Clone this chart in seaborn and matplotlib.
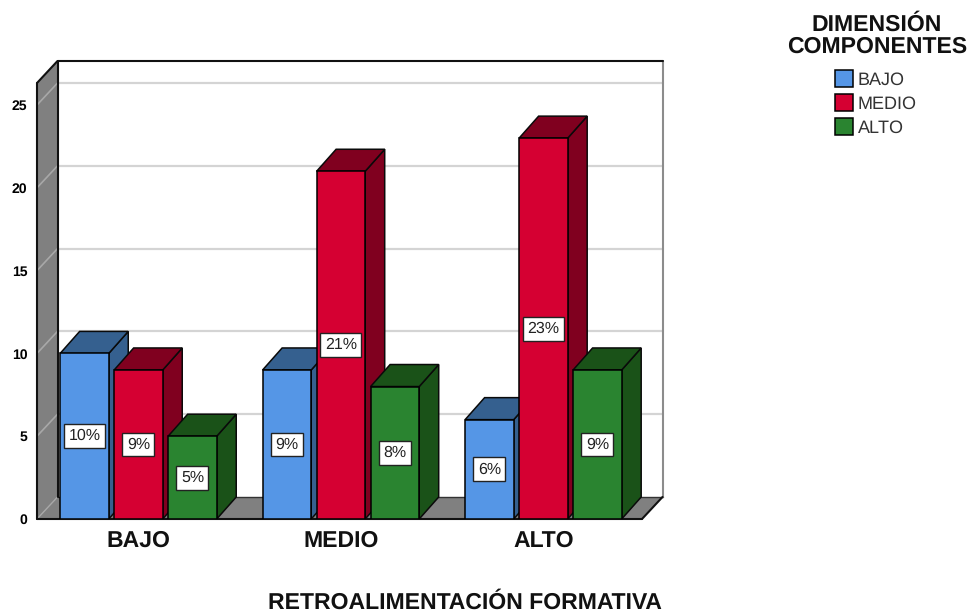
import matplotlib
matplotlib.use("Agg")
import matplotlib.pyplot as plt
from matplotlib.patches import Polygon
import pandas as pd
import seaborn as sns

groups = ["BAJO", "MEDIO", "ALTO"]
series = ["BAJO", "MEDIO", "ALTO"]
bajo_values = [10, 9, 6]
medio_values = [9, 21, 23]
alto_values = [5, 8, 9]
y_ticks = [0, 5, 10, 15, 20, 25]

front_colors = ["#5596E6", "#D50032", "#2A8430"]
shade_colors = ["#35608F", "#80001F", "#1A5218"]
wall_color = "#808080"
grid_color = "#D4D4D4"

sns.set_theme(style="white")
plt.rcParams["font.family"] = ["Liberation Sans", "DejaVu Sans"]
plt.rcParams["text.hinting"] = "no_hinting"
plt.rcParams["text.hinting_factor"] = 1

df = pd.DataFrame({
    "grupo": groups * 3,
    "serie": [s for s in series for _ in groups],
    "valor": bajo_values + medio_values + alto_values,
})

fig = plt.figure(figsize=(9.71, 6.14), dpi=100)
W, H = 971, 614
ax = fig.add_axes([37 / W, 1 - 519 / H, 605 / W, 436 / H])

sns.barplot(
    data=df, x="grupo", y="valor", hue="serie", order=groups, hue_order=series,
    palette=front_colors, width=0.8, gap=0.1, dodge=True, saturation=1,
    edgecolor="black", linewidth=1.1, ax=ax, legend=False,
)

ax.set_xlim(-0.501, 2.487)
ax.set_ylim(0, 26.33)
x0, x1 = ax.get_xlim()
top = ax.get_ylim()[1]
depth_x = 19.5 / (605 / (x1 - x0))
depth_y = 22 / (436 / top)
wall_x = 20.5 / (605 / (x1 - x0))

# Walls and floor of the 3D box
ax.add_patch(Polygon([(x0 + wall_x, depth_y), (x1 + wall_x, depth_y),
                      (x1 + wall_x, top + depth_y), (x0 + wall_x, top + depth_y)],
                     closed=True, fc="white", ec="none", zorder=0.5, clip_on=False))
ax.add_patch(Polygon([(x0, 0), (x0 + wall_x, depth_y),
                      (x0 + wall_x, top + depth_y), (x0, top)],
                     closed=True, fc=wall_color, ec="none", zorder=0.6, clip_on=False))
ax.add_patch(Polygon([(x0, 0), (x1, 0), (x1 + wall_x, depth_y), (x0 + wall_x, depth_y)],
                     closed=True, fc=wall_color, ec="none", zorder=0.6, clip_on=False))

# Gridlines run along the back wall and slant across the side wall
for v in y_ticks[1:]:
    ax.plot([x0 + wall_x, x1 + wall_x], [v + depth_y, v + depth_y],
            color=grid_color, lw=1.6, zorder=0.8, clip_on=False)
    ax.plot([x0, x0 + wall_x], [v, v + depth_y],
            color="#A8A8A8", lw=1.2, zorder=0.8, clip_on=False)

# Box outline
edge = dict(color="#111111", lw=1.5, zorder=0.9, clip_on=False, solid_capstyle="round")
ax.plot([x0, x0], [0, top], **edge)
ax.plot([x0, x0 + wall_x], [top, top + depth_y], **edge)
ax.plot([x0 + wall_x, x1 + wall_x], [top + depth_y, top + depth_y], **edge)
ax.plot([x0 + wall_x, x0 + wall_x], [depth_y, top + depth_y], **edge)
ax.plot([x0, x1], [0, 0], **edge)
ax.plot([x1, x1 + wall_x], [0, depth_y], **edge)
ax.plot([x0, x0 + wall_x], [0, depth_y], color="#A8A8A8", lw=1.0, zorder=0.85, clip_on=False)
ax.plot([x0 + wall_x, x1 + wall_x], [depth_y, depth_y], color="#333333", lw=1.0, zorder=0.85, clip_on=False)
ax.plot([x1 + wall_x, x1 + wall_x], [depth_y, top + depth_y],
        color="#8C8C8C", lw=1.5, zorder=0.85, clip_on=False)

# Extrude every bar, working left to right so nearer faces overlap correctly
bars = []
for idx, container in enumerate(ax.containers):
    for rect in container.patches:
        bars.append((rect, idx))
bars.sort(key=lambda item: item[0].get_x())

for order, (rect, idx) in enumerate(bars):
    left, w, h = rect.get_x(), rect.get_width(), rect.get_height()
    base = 2 + order
    ax.add_patch(Polygon([(left + w, 0), (left + w + depth_x, depth_y),
                          (left + w + depth_x, h + depth_y), (left + w, h)],
                         closed=True, fc=shade_colors[idx], ec="#0A0A0A", lw=1.1,
                         zorder=base, clip_on=False))
    ax.add_patch(Polygon([(left, h), (left + w, h),
                          (left + w + depth_x, h + depth_y), (left + depth_x, h + depth_y)],
                         closed=True, fc=shade_colors[idx], ec="#0A0A0A", lw=1.1,
                         zorder=base, clip_on=False))
    rect.set_zorder(base + 0.1)
    ax.text(left + w / 2, h / 2, f"{h:.0f}%", ha="center", va="center",
            fontsize=11.5, color="#222222", zorder=50,
            bbox=dict(boxstyle="square,pad=0.28", fc="white", ec="#222222", lw=1.0))

ax.set_yticks(y_ticks)
ax.set_yticklabels([str(v) for v in y_ticks], fontsize=10, fontweight="bold", color="black")
ax.set_xticks(range(len(groups)))
ax.set_xticklabels(groups, fontsize=16.5, fontweight="bold", color="#111111")
ax.tick_params(axis="both", length=0)
ax.tick_params(axis="y", pad=7)
ax.tick_params(axis="x", pad=8)
ax.set_xlabel("")
ax.set_ylabel("")
for spine in ax.spines.values():
    spine.set_visible(False)
ax.patch.set_visible(False)

fig.text(465 / W, 1 - 603 / H, "RETROALIMENTACIÓN FORMATIVA", ha="center", va="center",
         fontsize=16.9, fontweight="bold", color="#111111")
fig.text(877 / W, 1 - 36 / H, "DIMENSIÓN\nCOMPONENTES", ha="center", va="center",
         fontsize=16.9, fontweight="bold", color="#111111", linespacing=1.02)

# Legend swatches come from the bars' own containers
handles = [c.patches[0] for c in ax.containers]
leg = fig.legend(
    handles, series, loc="upper left", bbox_to_anchor=(835 / W, 1 - 70 / H),
    frameon=False, fontsize=13, handlelength=1.0, handleheight=1.1,
    handletextpad=0.25, labelspacing=0.3, borderpad=0, borderaxespad=0,
    labelcolor="#333333",
)

fig.savefig("out.png", dpi=100)
